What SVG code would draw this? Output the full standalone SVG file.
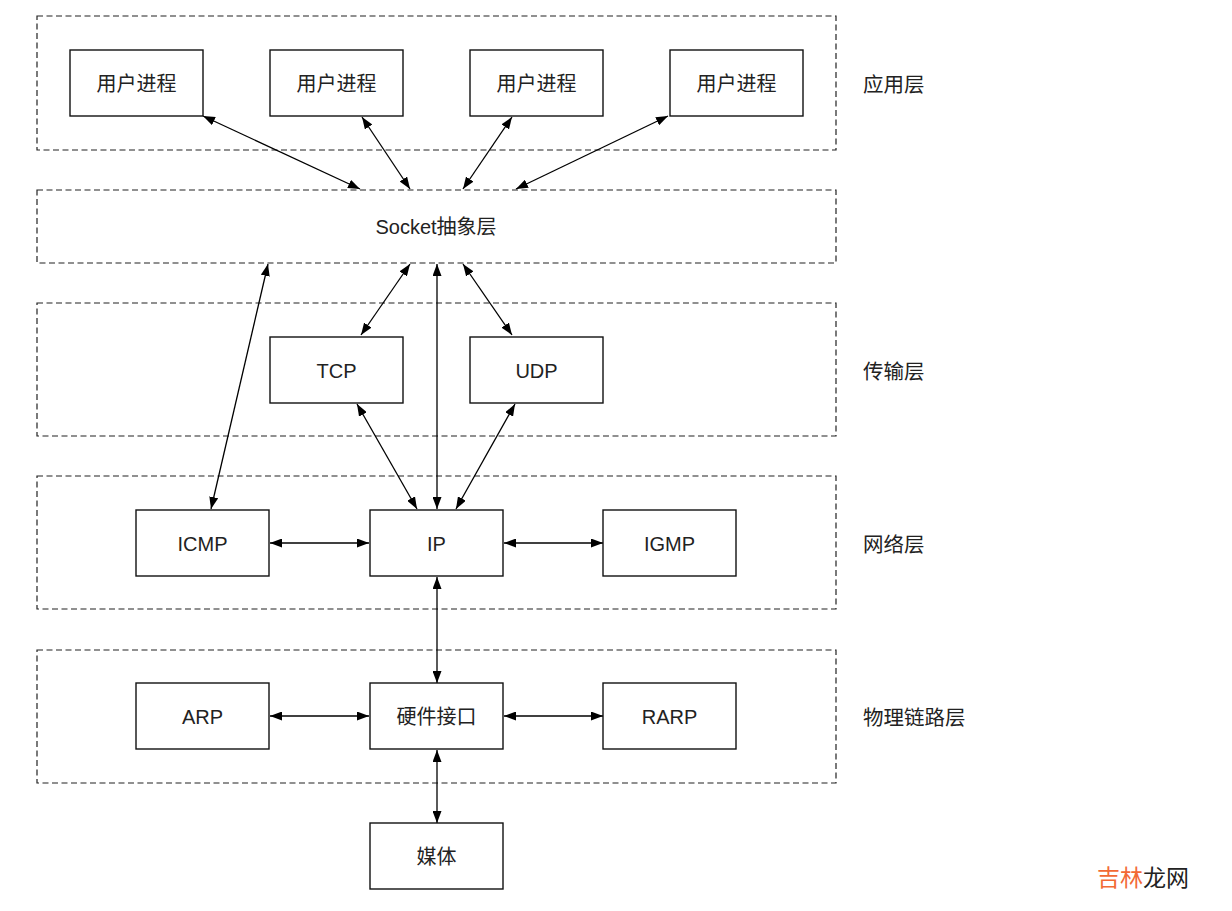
<svg xmlns="http://www.w3.org/2000/svg" width="1232" height="911" viewBox="0 0 1232 911">
<style>
.layer{fill:none;stroke:#222;stroke-width:1.2;stroke-dasharray:6 3.5}
.box{fill:#fff;stroke:#111;stroke-width:1.4}
.t{font-family:"Liberation Sans","Noto Sans CJK SC",sans-serif;font-size:20px;fill:#222;text-anchor:middle;dominant-baseline:central}
.lt{font-family:"Liberation Sans","Noto Sans CJK SC",sans-serif;font-size:20.5px;fill:#222;dominant-baseline:central}
.c{stroke:#000;stroke-width:1.3;fill:none;marker-start:url(#ah);marker-end:url(#ah)}
</style>
<defs>
<marker id="ah" viewBox="0 0 12 9" refX="12" refY="4.5" markerWidth="12" markerHeight="9" markerUnits="userSpaceOnUse" orient="auto-start-reverse">
<path d="M0,0 L12,4.5 L0,9 Z" fill="#000"/>
</marker>
</defs>
<rect width="1232" height="911" fill="#fff"/>
<g id="layers">
<rect class="layer" x="37" y="16" width="799" height="134"/>
<rect class="layer" x="37" y="190" width="799" height="73"/>
<rect class="layer" x="37" y="303" width="799" height="133"/>
<rect class="layer" x="37" y="476" width="799" height="133"/>
<rect class="layer" x="37" y="650" width="799" height="133"/>
<text class="t" x="436" y="227">Socket抽象层</text>
<text class="lt" x="863" y="84">应用层</text>
<text class="lt" x="863" y="371">传输层</text>
<text class="lt" x="863" y="544">网络层</text>
<text class="lt" x="863" y="717">物理链路层</text>
</g>
<g id="connectors">
<line class="c" x1="203" y1="116" x2="360" y2="189"/>
<line class="c" x1="362" y1="117" x2="410" y2="189"/>
<line class="c" x1="512" y1="117" x2="463" y2="189"/>
<line class="c" x1="668" y1="116" x2="516" y2="189"/>
<line class="c" x1="268" y1="264" x2="211" y2="509"/>
<line class="c" x1="410" y1="264" x2="361" y2="335"/>
<line class="c" x1="437" y1="264" x2="437" y2="509"/>
<line class="c" x1="463" y1="264" x2="512" y2="335"/>
<line class="c" x1="357" y1="404" x2="417" y2="509"/>
<line class="c" x1="515" y1="404" x2="456" y2="509"/>
<line class="c" x1="270" y1="543" x2="369" y2="543"/>
<line class="c" x1="504" y1="543" x2="603" y2="543"/>
<line class="c" x1="437" y1="577" x2="437" y2="683"/>
<line class="c" x1="270" y1="716" x2="369" y2="716"/>
<line class="c" x1="504" y1="716" x2="603" y2="716"/>
<line class="c" x1="437" y1="750" x2="437" y2="823"/>
</g>
<g id="p1"><rect class="box" x="70" y="50" width="133" height="66"/><text class="t" x="136.5" y="84">用户进程</text></g>
<g id="p2"><rect class="box" x="270" y="50" width="133" height="66"/><text class="t" x="336.5" y="84">用户进程</text></g>
<g id="p3"><rect class="box" x="470" y="50" width="133" height="66"/><text class="t" x="536.5" y="84">用户进程</text></g>
<g id="p4"><rect class="box" x="670" y="50" width="133" height="66"/><text class="t" x="736.5" y="84">用户进程</text></g>
<g id="tcp"><rect class="box" x="270" y="337" width="133" height="66"/><text class="t" x="336.5" y="371">TCP</text></g>
<g id="udp"><rect class="box" x="470" y="337" width="133" height="66"/><text class="t" x="536.5" y="371">UDP</text></g>
<g id="icmp"><rect class="box" x="136" y="510" width="133" height="66"/><text class="t" x="202.5" y="544">ICMP</text></g>
<g id="ip"><rect class="box" x="370" y="510" width="133" height="66"/><text class="t" x="436.5" y="544">IP</text></g>
<g id="igmp"><rect class="box" x="603" y="510" width="133" height="66"/><text class="t" x="669.5" y="544">IGMP</text></g>
<g id="arp"><rect class="box" x="136" y="683" width="133" height="66"/><text class="t" x="202.5" y="717">ARP</text></g>
<g id="hw"><rect class="box" x="370" y="683" width="133" height="66"/><text class="t" x="436.5" y="717">硬件接口</text></g>
<g id="rarp"><rect class="box" x="603" y="683" width="133" height="66"/><text class="t" x="669.5" y="717">RARP</text></g>
<g id="media"><rect class="box" x="370" y="823" width="133" height="66"/><text class="t" x="436.5" y="857">媒体</text></g>
<g id="watermark">
<text x="1097" y="876" font-family="'Noto Sans CJK SC',sans-serif" font-size="23" dominant-baseline="central"><tspan fill="#f26a35">吉林</tspan><tspan fill="#222">龙网</tspan></text>
</g>
</svg>
